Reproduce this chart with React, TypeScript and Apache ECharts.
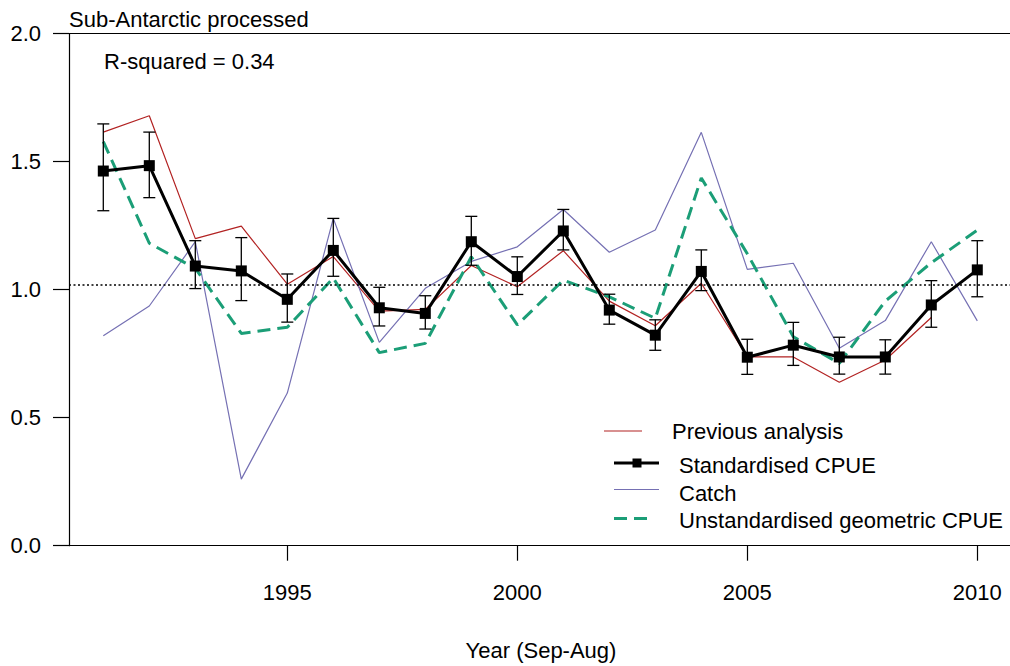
import React, { useEffect, useRef } from "react";
import * as echarts from "echarts";

const years = [1991, 1992, 1993, 1994, 1995, 1996, 1997, 1998, 1999, 2000, 2001, 2002, 2003, 2004, 2005, 2006, 2007, 2008, 2009, 2010];
const standardised = [1.463, 1.484, 1.092, 1.073, 0.962, 1.153, 0.929, 0.907, 1.187, 1.051, 1.229, 0.920, 0.822, 1.071, 0.736, 0.783, 0.737, 0.737, 0.940, 1.077];
const stdLower = [1.308, 1.359, 1.004, 0.957, 0.873, 1.052, 0.858, 0.846, 1.095, 0.981, 1.155, 0.865, 0.763, 0.996, 0.669, 0.704, 0.670, 0.670, 0.853, 0.972];
const stdUpper = [1.647, 1.615, 1.191, 1.203, 1.061, 1.278, 1.009, 0.976, 1.286, 1.128, 1.313, 0.982, 0.882, 1.155, 0.806, 0.872, 0.814, 0.804, 1.035, 1.191];
const previousYears = [1991, 1992, 1993, 1994, 1995, 1996, 1997, 1998, 1999, 2000, 2001, 2002, 2003, 2004, 2005, 2006, 2007, 2008, 2009];
const previous = [1.615, 1.679, 1.199, 1.248, 1.021, 1.129, 0.916, 0.923, 1.094, 1.011, 1.152, 0.955, 0.859, 1.025, 0.737, 0.737, 0.638, 0.725, 0.891];
const catchIdx = [0.820, 0.936, 1.187, 0.260, 0.596, 1.278, 0.794, 1.005, 1.110, 1.167, 1.313, 1.146, 1.233, 1.614, 1.079, 1.103, 0.771, 0.879, 1.187, 0.878];
const geometric = [1.578, 1.181, 1.083, 0.829, 0.853, 1.045, 0.754, 0.790, 1.128, 0.862, 1.037, 0.972, 0.888, 1.436, 1.140, 0.816, 0.712, 0.955, 1.105, 1.232];
const referenceLevel = 1.021;
const xTicks = [1995, 2000, 2005, 2010];
const yTicks = [0, 0.5, 1.0, 1.5, 2.0];

const titleText = "Sub-Antarctic processed";
const rsqText = "R-squared = 0.34";
const xName = "Year (Sep-Aug)";
const legendNames = ["Previous analysis", "Standardised CPUE", "Catch", "Unstandardised geometric CPUE"];

const FONT = "'Liberation Sans', Arial, sans-serif";
const RED = "#B22222";
const PURPLE = "#7570B3";
const GREEN = "#1B9E77";

export default function App() {
  const ref = useRef<HTMLDivElement>(null);
  useEffect(() => {
    if (!ref.current) return;
    const chart = echarts.init(ref.current, undefined, { renderer: "svg" });
    const gridLeft = 69;
    const gridTop = 33.5;
    const gridW = 941;
    const gridH = 512.2;
    const pxPerYear = 46.0;
    const xMin = 1995 - (287.3 - gridLeft) / pxPerYear;
    const xMax = xMin + gridW / pxPerYear;

    const txt = (text: string, x: number, y: number, align = "left") => ({
      type: "text",
      x,
      y,
      silent: true,
      style: { text, fill: "#000", font: `22px ${FONT}`, textAlign: align, textVerticalAlign: "middle" },
    });

    const option: any = {
      animation: false,
      backgroundColor: "#fff",
      textStyle: { fontFamily: FONT },
      grid: { left: gridLeft, top: gridTop, width: gridW, height: gridH, containLabel: false },
      xAxis: [
        {
          type: "value",
          min: xMin,
          max: xMax,
          position: "bottom",
          axisLine: { show: true, onZero: false, lineStyle: { color: "#000", width: 1.2 } },
          axisTick: { show: true, length: 15, inside: false, customValues: xTicks, lineStyle: { color: "#000", width: 1.2 } },
          axisLabel: { show: true, customValues: xTicks, margin: 36, fontSize: 22, color: "#000", fontFamily: FONT, formatter: (v: number) => String(Math.round(v)) },
          splitLine: { show: false },
        },
        {
          type: "value",
          min: xMin,
          max: xMax,
          position: "top",
          axisLine: { show: true, onZero: false, lineStyle: { color: "#000", width: 1.2 } },
          axisTick: { show: false },
          axisLabel: { show: false },
          splitLine: { show: false },
        },
      ],
      yAxis: {
        type: "value",
        min: 0,
        max: 2,
        interval: 0.5,
        axisLine: { show: true, onZero: false, lineStyle: { color: "#000", width: 1.2 } },
        axisTick: { show: true, length: 16, customValues: yTicks, lineStyle: { color: "#000", width: 1.2 } },
        axisLabel: { margin: 28, fontSize: 22, color: "#000", fontFamily: FONT, formatter: (v: number) => v.toFixed(1) },
        splitLine: { show: false },
      },
      series: [
        {
          name: legendNames[0],
          type: "line",
          data: previous.map((v, i) => [previousYears[i], v]),
          symbol: "none",
          lineStyle: { color: RED, width: 1.2 },
          markLine: {
            silent: true,
            symbol: ["none", "none"],
            label: { show: false },
            lineStyle: { color: "#000", type: [2, 2.5], width: 1.5 },
            data: [{ yAxis: referenceLevel }],
          },
          z: 2,
        },
        {
          name: legendNames[2],
          type: "line",
          data: catchIdx.map((v, i) => [years[i], v]),
          symbol: "none",
          lineStyle: { color: PURPLE, width: 1.2 },
          z: 2,
        },
        {
          name: legendNames[3],
          type: "line",
          data: geometric.map((v, i) => [years[i], v]),
          symbol: "none",
          lineStyle: { color: GREEN, width: 3, type: [13, 7] },
          z: 3,
        },
        {
          name: "error",
          type: "custom",
          data: years.map((y, i) => [y, stdLower[i], stdUpper[i]]),
          renderItem: (params: any, api: any) => {
            const x = api.value(0);
            const lo = api.coord([x, api.value(1)]);
            const hi = api.coord([x, api.value(2)]);
            const cap = 6;
            const ls = { stroke: "#000", lineWidth: 1.3 };
            return {
              type: "group",
              children: [
                { type: "line", shape: { x1: lo[0], y1: lo[1], x2: hi[0], y2: hi[1] }, style: ls },
                { type: "line", shape: { x1: lo[0] - cap, y1: lo[1], x2: lo[0] + cap, y2: lo[1] }, style: ls },
                { type: "line", shape: { x1: hi[0] - cap, y1: hi[1], x2: hi[0] + cap, y2: hi[1] }, style: ls },
              ],
            };
          },
          z: 4,
        },
        {
          name: legendNames[1],
          type: "line",
          data: standardised.map((v, i) => [years[i], v]),
          symbol: "rect",
          symbolSize: 11,
          itemStyle: { color: "#000" },
          lineStyle: { color: "#000", width: 3 },
          z: 5,
        },
      ],
      graphic: [
        txt(titleText, 69, 19),
        txt(rsqText, 104, 61),
        txt(xName, 541, 650, "center"),
        { type: "line", shape: { x1: 604, y1: 431, x2: 642, y2: 431 }, style: { stroke: RED, lineWidth: 1.2 } },
        txt(legendNames[0], 672, 431),
        { type: "line", shape: { x1: 614, y1: 463, x2: 659, y2: 463 }, style: { stroke: "#000", lineWidth: 3 } },
        { type: "rect", shape: { x: 632.5, y: 458.5, width: 9, height: 9 }, style: { fill: "#000" } },
        txt(legendNames[1], 679, 465),
        { type: "line", shape: { x1: 614, y1: 489.5, x2: 659, y2: 489.5 }, style: { stroke: PURPLE, lineWidth: 1.2 } },
        txt(legendNames[2], 679, 493),
        { type: "line", shape: { x1: 614, y1: 518.5, x2: 648, y2: 518.5 }, style: { stroke: GREEN, lineWidth: 3, lineDash: [13, 7] } },
        txt(legendNames[3], 679, 520.5),
      ],
    };
    chart.setOption(option);
    return () => chart.dispose();
  }, []);
  return <div ref={ref} style={{ position: "fixed", left: 0, top: 0, width: 1010, height: 666, background: "#fff" }} />;
}
